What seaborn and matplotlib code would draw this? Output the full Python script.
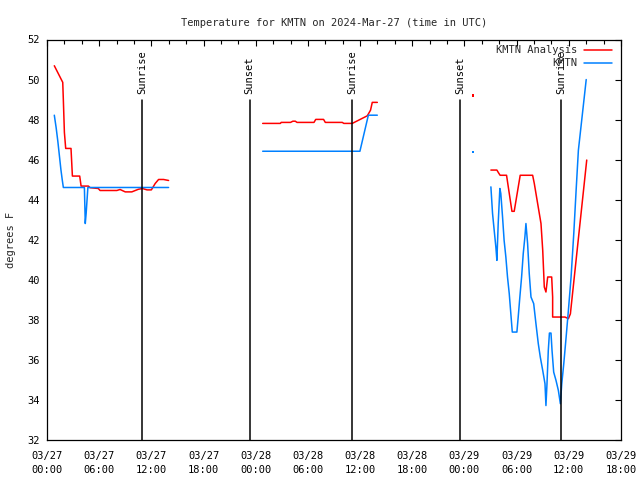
import matplotlib
matplotlib.use("Agg")
import matplotlib.pyplot as plt
from matplotlib.ticker import MultipleLocator
import seaborn as sns
import pandas as pd

# ---------------- data (hours since 03/27 00:00 UTC, degrees F) ----------------
an1_t = [0.84, 1.81, 1.88, 2.0, 2.15, 2.76, 2.92, 3.76, 3.92, 4.76, 4.95, 5.9, 6.1, 8.03, 8.4, 9.0, 9.75,
         10.5, 10.98, 11.5, 12.0, 12.44, 12.83, 13.4, 13.98]
an1_v = [50.69, 49.86, 48.98, 47.36, 46.56, 46.56, 45.18, 45.18, 44.68, 44.68, 44.6, 44.56, 44.46, 44.46,
         44.51, 44.39, 44.39, 44.52, 44.56, 44.49, 44.49, 44.81, 45.01, 45.01, 44.96]
an2_t = [24.8, 26.84, 26.92, 28.0, 28.27, 28.55, 28.75, 30.7, 30.9, 31.8, 32.0, 33.95, 34.13, 35.1, 36.83, 37.2, 37.4, 37.98]
an2_v = [47.81, 47.81, 47.86, 47.86, 47.92, 47.92, 47.86, 47.86, 48.01, 48.01, 47.86, 47.86, 47.81, 47.81,
         48.19, 48.47, 48.86, 48.86]
an3_t = [51.04, 51.73, 51.92, 52.1, 52.84, 53.46, 53.72, 54.41, 55.84, 56.03, 56.8, 57.0, 57.18, 57.37,
         57.57, 58.03, 58.14, 58.14, 59.56, 59.95, 60.18, 62.06]
an3_v = [45.48, 45.48, 45.34, 45.22, 45.22, 43.42, 43.42, 45.22, 45.22, 44.81, 42.81, 41.47, 39.64, 39.39,
         40.14, 40.14, 39.14, 38.14, 38.14, 38.06, 38.3, 45.98]
an_dot_t = [48.97]
an_dot_v = [49.2]

ob1_t = [0.84, 1.05, 1.25, 1.45, 1.6, 1.75, 1.88, 4.3, 4.4, 4.5, 4.7, 13.98]
ob1_v = [48.22, 47.6, 46.9, 46.1, 45.5, 45.0, 44.61, 44.61, 42.81, 43.31, 44.61, 44.61]
ob2_t = [24.8, 35.98, 36.95, 37.98]
ob2_v = [46.42, 46.42, 48.22, 48.22]
ob3_t = [51.04, 51.23, 51.42, 51.61, 51.73, 51.88, 52.07, 52.18, 52.38, 52.56, 52.76, 52.95, 53.15, 53.5,
         54.03, 54.18, 54.37, 54.57, 54.76, 54.95, 55.07, 55.26, 55.45, 55.65, 55.96, 56.22, 56.49, 56.72,
         57.0, 57.26, 57.37, 57.49, 57.64, 57.77, 57.95, 58.07, 58.26, 58.53, 58.8, 59.03, 59.19, 59.42,
         59.69, 59.95, 60.26, 60.57, 60.84, 61.1, 62.0]
ob3_v = [44.64, 43.31, 42.47, 41.64, 40.97, 42.81, 44.56, 44.31, 43.14, 41.97, 41.14, 40.14, 39.31, 37.39,
         37.39, 38.14, 39.14, 40.14, 41.31, 42.14, 42.81, 41.81, 40.31, 39.14, 38.81, 37.81, 36.81, 36.14,
         35.47, 34.81, 33.72, 34.81, 36.47, 37.34, 37.34, 36.47, 35.39, 34.97, 34.47, 33.81, 34.81, 35.81,
         37.14, 38.47, 40.14, 42.31, 44.47, 46.47, 50.0]
ob_dot_t = [48.97]
ob_dot_v = [46.39]

sun_t = [10.98, 23.3, 35.06, 47.5, 59.1]
sun_lbl = ["Sunrise", "Sunset", "Sunrise", "Sunset", "Sunrise"]

xtick_hours = [0, 6, 12, 18, 24, 30, 36, 42, 48, 54, 60, 66]
xtick_labels = ["03/27\n00:00", "03/27\n06:00", "03/27\n12:00", "03/27\n18:00",
                "03/28\n00:00", "03/28\n06:00", "03/28\n12:00", "03/28\n18:00",
                "03/29\n00:00", "03/29\n06:00", "03/29\n12:00", "03/29\n18:00"]

series_names = ["KMTN Analysis", "KMTN"]
colors = {"KMTN Analysis": "#ff0000", "KMTN": "#0080ff"}

rows = []
for seg, (ts, vs) in enumerate([(an1_t, an1_v), (an2_t, an2_v), (an3_t, an3_v)]):
    for t, v in zip(ts, vs):
        rows.append({"t": t, "v": v, "series": "KMTN Analysis", "seg": f"a{seg}"})
for seg, (ts, vs) in enumerate([(ob1_t, ob1_v), (ob2_t, ob2_v), (ob3_t, ob3_v)]):
    for t, v in zip(ts, vs):
        rows.append({"t": t, "v": v, "series": "KMTN", "seg": f"o{seg}"})
df = pd.DataFrame(rows)
dots = pd.DataFrame({"t": an_dot_t + ob_dot_t, "v": an_dot_v + ob_dot_v,
                     "series": ["KMTN Analysis", "KMTN"]})

# ---------------- plot ----------------
sns.set_theme(style="white")
plt.rcParams["font.family"] = ["DejaVu Sans Mono"]
plt.rcParams["font.size"] = 7.5

fig = plt.figure(figsize=(6.4, 4.8), dpi=100)
ax = fig.add_axes([47 / 640, 1 - 440 / 480, (621 - 47) / 640, 400.5 / 480])

sns.lineplot(data=df, x="t", y="v", hue="series", units="seg", estimator=None, sort=False,
             palette=colors, hue_order=series_names, linewidth=1.1, legend=False, ax=ax)
sns.scatterplot(data=dots, x="t", y="v", hue="series", palette=colors, hue_order=series_names,
                s=3, marker="s", linewidth=0, legend=False, ax=ax)

for t, lbl in zip(sun_t, sun_lbl):
    ax.plot([t, t], [32, 49.0], color="black", linewidth=1.1)
    ax.text(t, 49.3, lbl, rotation=90, ha="center", va="bottom", fontsize=7.5, color="black")

ax.set_xlim(0, 66)
ax.set_ylim(32, 52)
ax.set_xticks(xtick_hours)
ax.set_xticklabels(xtick_labels, linespacing=1.5)
ax.xaxis.set_minor_locator(MultipleLocator(2))
ax.yaxis.set_major_locator(MultipleLocator(2))
ax.tick_params(which="both", direction="in", top=True, right=True, length=4, width=0.8,
               colors="black", labelsize=7.5)
ax.tick_params(axis="x", pad=8)
ax.tick_params(axis="y", pad=5)
ax.tick_params(which="minor", length=3)
for s in ax.spines.values():
    s.set_color("black")
    s.set_linewidth(0.9)

ax.set_xlabel("")
ax.set_ylabel("degrees F", fontsize=7.5, labelpad=8)
ax.set_title("Temperature for KMTN on 2024-Mar-27 (time in UTC)", fontsize=7.5, pad=10)

# gnuplot-like legend (top right, inside)
for i, name in enumerate(series_names):
    y = 0.975 - i * 0.034
    ax.text(0.923, y, name, transform=ax.transAxes, ha="right", va="center", fontsize=7.5)
    ax.plot([0.935, 0.985], [y, y], transform=ax.transAxes, color=colors[name], linewidth=1.1)

fig.savefig("out.png", dpi=100)
